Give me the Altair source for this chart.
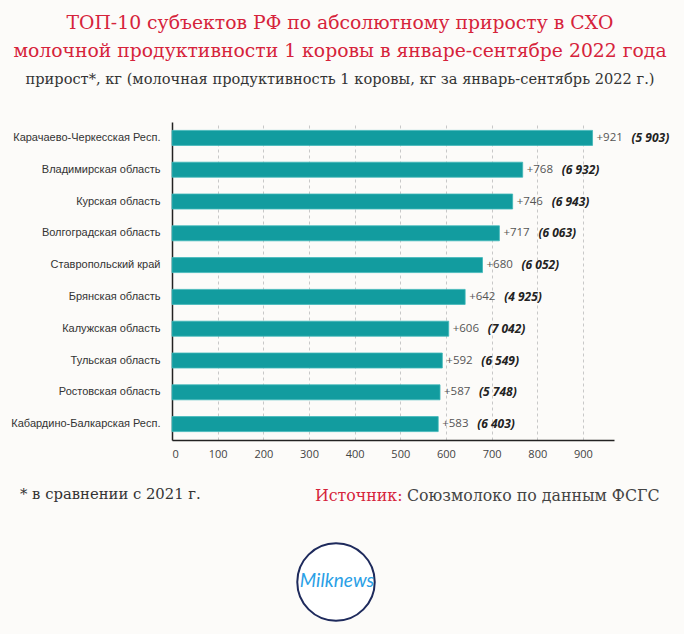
import altair as alt
import pandas as pd

# Regions ranked by absolute gain in milk yield per cow (Jan–Sep 2022 vs 2021)
regions = [
    "Карачаево-Черкесская Респ.",
    "Владимирская область",
    "Курская область",
    "Волгоградская область",
    "Ставропольский край",
    "Брянская область",
    "Калужская область",
    "Тульская область",
    "Ростовская область",
    "Кабардино-Балкарская Респ.",
]
gain_kg = [921, 768, 746, 717, 680, 642, 606, 592, 587, 583]
yield_kg = [5903, 6932, 6943, 6063, 6052, 4925, 7042, 6549, 5748, 6403]
x_ticks = [0, 100, 200, 300, 400, 500, 600, 700, 800, 900]

title_lines = [
    "ТОП-10 субъектов РФ по абсолютному приросту в СХО",
    "молочной продуктивности 1 коровы в январе-сентябре 2022 года",
]
subtitle = "прирост*, кг (молочная продуктивность 1 коровы, кг за январь-сентябрь 2022 г.)"
footnote = "* в сравнении с 2021 г."
source_label = "Источник:"
source_text = "Союзмолоко по данным ФСГС"
logo_text = "Milknews"

df = pd.DataFrame({"region": regions, "gain": gain_kg, "yield": yield_kg})
df["gain_label"] = ["+" + str(v) for v in gain_kg]
df["yield_label"] = ["(" + f"{v:,}".replace(",", " ") + ")" for v in yield_kg]

W, H = 442, 318
LEFT, TOP = 172, 122
TITLE_RED = "#d6233b"
TEAL = "#129c9f"
SERIF = "DejaVu Serif"

x_enc = alt.X(
    "gain:Q",
    scale=alt.Scale(domain=[0, 968], nice=False),
    axis=alt.Axis(
        values=x_ticks, title=None, ticks=False, domainColor="#222",
        domainWidth=1.5, labelColor="#444", labelFont="Open Sans",
        labelFontSize=11, labelPadding=8, grid=True, gridColor="#c8c8c8",
        gridDash=[3, 3], gridWidth=1,
    ),
)
y_enc = alt.Y(
    "region:N", sort=regions,
    scale=alt.Scale(paddingInner=0, paddingOuter=0),
    axis=alt.Axis(
        title=None, ticks=False, domainColor="#222", domainWidth=1.5,
        labelColor="#333", labelFont="Liberation Sans", labelFontSize=11,
        labelPadding=12, labelLimit=200,
    ),
)

base = alt.Chart(df)
bars = base.mark_bar(size=15, color=TEAL, stroke="#3fb7b9", strokeWidth=0.8).encode(x=x_enc, y=y_enc)
gain_text = base.mark_text(
    align="left", dx=4, font="Open Sans", fontSize=11.5, color="#555"
).encode(x="gain:Q", y=alt.Y("region:N", sort=regions), text="gain_label:N")
yield_text = base.mark_text(
    align="left", dx=39, font="Open Sans", fontSize=12, fontWeight="bold",
    fontStyle="italic", color="#222"
).encode(x="gain:Q", y=alt.Y("region:N", sort=regions), text="yield_label:N")


def note(text, x, y, size, color, align="center", **kw):
    return alt.Chart(pd.DataFrame({"t": [text]})).mark_text(
        align=align, baseline="middle", fontSize=size, color=color, **kw
    ).encode(x=alt.value(x - LEFT), y=alt.value(y - TOP), text="t:N")


cx = 340
titles = [
    note(title_lines[0], cx, 23, 18.8, TITLE_RED, font=SERIF),
    note(title_lines[1], cx, 51, 18.8, TITLE_RED, font=SERIF),
    note(subtitle, cx, 80, 14.6, "#333", font=SERIF),
    note(footnote, 20, 495, 14.8, "#333", align="left", font=SERIF),
    note(source_label, 315, 496, 15.8, TITLE_RED, align="left", font=SERIF),
    note(source_text, 407, 496, 15.8, "#444", align="left", font=SERIF),
]

logo_ring = alt.Chart(pd.DataFrame({"t": [logo_text]})).mark_point(
    shape="circle", size=6000, filled=True, fill="white", stroke="#1e2a5c",
    strokeWidth=2, opacity=1,
).encode(x=alt.value(336 - LEFT), y=alt.value(582 - TOP))
logo_word = note(logo_text, 337, 581, 19, "#2a9fe6", font="Lato",
                 fontStyle="italic")

chart = alt.layer(bars, gain_text, yield_text, *titles, logo_ring, logo_word).properties(
    width=W, height=H,
    autosize=alt.AutoSizeParams(type="none"),
    padding={"left": LEFT, "top": TOP, "right": 684 - LEFT - W, "bottom": 634 - TOP - H},
    background="#fcfbf9",
).configure_view(stroke=None)

chart.save("out.html", embed_options={"renderer": "svg", "actions": False})
